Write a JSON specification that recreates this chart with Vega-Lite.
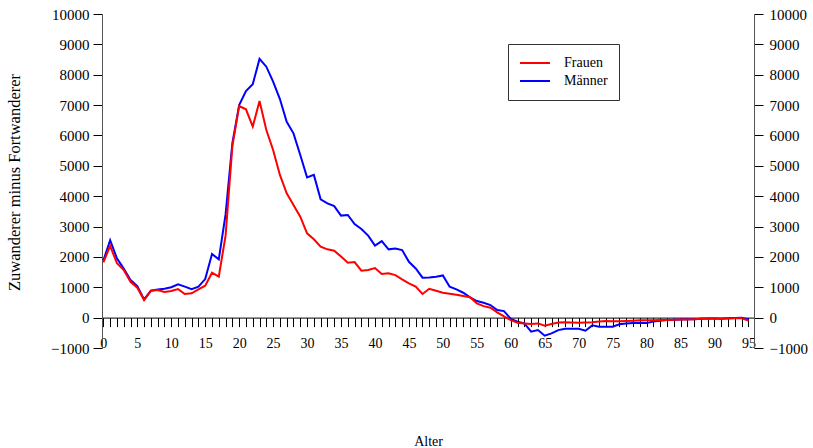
{
  "$schema": "https://vega.github.io/schema/vega-lite/v6.json",
  "width": 652,
  "height": 334,
  "autosize": {"type": "none"},
  "padding": {"left": 102, "top": 14, "right": 59, "bottom": 100},
  "background": "white",
  "config": {
    "view": {"stroke": null},
    "font": "Liberation Serif",
    "axis": {
      "grid": false,
      "labelFont": "Liberation Serif",
      "titleFont": "Liberation Serif",
      "labelColor": "#000",
      "titleColor": "#000",
      "titleFontWeight": "normal",
      "domainColor": "#000",
      "tickColor": "#000",
      "domainWidth": 1,
      "tickWidth": 1
    }
  },
  "data": {
    "values": [
      {"alter": 0, "Frauen": 1820, "Maenner": 1880},
      {"alter": 1, "Frauen": 2360, "Maenner": 2550},
      {"alter": 2, "Frauen": 1790, "Maenner": 1950},
      {"alter": 3, "Frauen": 1570, "Maenner": 1620},
      {"alter": 4, "Frauen": 1180, "Maenner": 1240},
      {"alter": 5, "Frauen": 985, "Maenner": 1040},
      {"alter": 6, "Frauen": 580, "Maenner": 600},
      {"alter": 7, "Frauen": 885, "Maenner": 885},
      {"alter": 8, "Frauen": 910, "Maenner": 930},
      {"alter": 9, "Frauen": 845, "Maenner": 950},
      {"alter": 10, "Frauen": 875, "Maenner": 1000},
      {"alter": 11, "Frauen": 940, "Maenner": 1095},
      {"alter": 12, "Frauen": 780, "Maenner": 1020},
      {"alter": 13, "Frauen": 800, "Maenner": 940},
      {"alter": 14, "Frauen": 930, "Maenner": 1020},
      {"alter": 15, "Frauen": 1050, "Maenner": 1270},
      {"alter": 16, "Frauen": 1480, "Maenner": 2095},
      {"alter": 17, "Frauen": 1350, "Maenner": 1920},
      {"alter": 18, "Frauen": 2700, "Maenner": 3400},
      {"alter": 19, "Frauen": 5650, "Maenner": 5750},
      {"alter": 20, "Frauen": 6970, "Maenner": 7000},
      {"alter": 21, "Frauen": 6860, "Maenner": 7460},
      {"alter": 22, "Frauen": 6290, "Maenner": 7690},
      {"alter": 23, "Frauen": 7135, "Maenner": 8520},
      {"alter": 24, "Frauen": 6180, "Maenner": 8265},
      {"alter": 25, "Frauen": 5520, "Maenner": 7770},
      {"alter": 26, "Frauen": 4700, "Maenner": 7200},
      {"alter": 27, "Frauen": 4095, "Maenner": 6450},
      {"alter": 28, "Frauen": 3710, "Maenner": 6070},
      {"alter": 29, "Frauen": 3325, "Maenner": 5355},
      {"alter": 30, "Frauen": 2775, "Maenner": 4620},
      {"alter": 31, "Frauen": 2580, "Maenner": 4700},
      {"alter": 32, "Frauen": 2335, "Maenner": 3895},
      {"alter": 33, "Frauen": 2250, "Maenner": 3765},
      {"alter": 34, "Frauen": 2205, "Maenner": 3675},
      {"alter": 35, "Frauen": 2010, "Maenner": 3360},
      {"alter": 36, "Frauen": 1810, "Maenner": 3380},
      {"alter": 37, "Frauen": 1830, "Maenner": 3080},
      {"alter": 38, "Frauen": 1545, "Maenner": 2920},
      {"alter": 39, "Frauen": 1570, "Maenner": 2700},
      {"alter": 40, "Frauen": 1635, "Maenner": 2370},
      {"alter": 41, "Frauen": 1435, "Maenner": 2520},
      {"alter": 42, "Frauen": 1460, "Maenner": 2250},
      {"alter": 43, "Frauen": 1400, "Maenner": 2280},
      {"alter": 44, "Frauen": 1260, "Maenner": 2225},
      {"alter": 45, "Frauen": 1130, "Maenner": 1840},
      {"alter": 46, "Frauen": 1020, "Maenner": 1620},
      {"alter": 47, "Frauen": 780, "Maenner": 1315},
      {"alter": 48, "Frauen": 950, "Maenner": 1325},
      {"alter": 49, "Frauen": 885, "Maenner": 1350},
      {"alter": 50, "Frauen": 820, "Maenner": 1390},
      {"alter": 51, "Frauen": 790, "Maenner": 1020},
      {"alter": 52, "Frauen": 755, "Maenner": 930},
      {"alter": 53, "Frauen": 710, "Maenner": 820},
      {"alter": 54, "Frauen": 670, "Maenner": 665},
      {"alter": 55, "Frauen": 470, "Maenner": 545},
      {"alter": 56, "Frauen": 380, "Maenner": 490},
      {"alter": 57, "Frauen": 325, "Maenner": 415},
      {"alter": 58, "Frauen": 175, "Maenner": 250},
      {"alter": 59, "Frauen": 40, "Maenner": 215},
      {"alter": 60, "Frauen": -80, "Maenner": -40},
      {"alter": 61, "Frauen": -170, "Maenner": -135},
      {"alter": 62, "Frauen": -190, "Maenner": -190},
      {"alter": 63, "Frauen": -210, "Maenner": -460},
      {"alter": 64, "Frauen": -190, "Maenner": -410},
      {"alter": 65, "Frauen": -265, "Maenner": -595},
      {"alter": 66, "Frauen": -210, "Maenner": -520},
      {"alter": 67, "Frauen": -160, "Maenner": -410},
      {"alter": 68, "Frauen": -150, "Maenner": -365},
      {"alter": 69, "Frauen": -160, "Maenner": -365},
      {"alter": 70, "Frauen": -170, "Maenner": -365},
      {"alter": 71, "Frauen": -160, "Maenner": -430},
      {"alter": 72, "Frauen": -150, "Maenner": -255},
      {"alter": 73, "Frauen": -130, "Maenner": -300},
      {"alter": 74, "Frauen": -110, "Maenner": -300},
      {"alter": 75, "Frauen": -120, "Maenner": -300},
      {"alter": 76, "Frauen": -120, "Maenner": -220},
      {"alter": 77, "Frauen": -110, "Maenner": -190},
      {"alter": 78, "Frauen": -100, "Maenner": -180},
      {"alter": 79, "Frauen": -90, "Maenner": -170},
      {"alter": 80, "Frauen": -90, "Maenner": -180},
      {"alter": 81, "Frauen": -85, "Maenner": -125},
      {"alter": 82, "Frauen": -80, "Maenner": -100},
      {"alter": 83, "Frauen": -75, "Maenner": -80},
      {"alter": 84, "Frauen": -70, "Maenner": -70},
      {"alter": 85, "Frauen": -60, "Maenner": -60},
      {"alter": 86, "Frauen": -60, "Maenner": -50},
      {"alter": 87, "Frauen": -50, "Maenner": -50},
      {"alter": 88, "Frauen": -40, "Maenner": -40},
      {"alter": 89, "Frauen": -40, "Maenner": -30},
      {"alter": 90, "Frauen": -30, "Maenner": -30},
      {"alter": 91, "Frauen": -40, "Maenner": -40},
      {"alter": 92, "Frauen": -30, "Maenner": -20},
      {"alter": 93, "Frauen": -20, "Maenner": -10},
      {"alter": 94, "Frauen": -20, "Maenner": 0},
      {"alter": 95, "Frauen": -100, "Maenner": -60}
    ]
  },
  "encoding": {
    "x": {
      "field": "alter",
      "type": "quantitative",
      "scale": {"domain": [-0.2, 95.82], "nice": false, "zero": false},
      "axis": {
        "title": "Alter",
        "offset": -30.4,
        "values": [0,1,2,3,4,5,6,7,8,9,10,11,12,13,14,15,16,17,18,19,20,21,22,23,24,25,26,27,28,29,30,31,32,33,34,35,36,37,38,39,40,41,42,43,44,45,46,47,48,49,50,51,52,53,54,55,56,57,58,59,60,61,62,63,64,65,66,67,68,69,70,71,72,73,74,75,76,77,78,79,80,81,82,83,84,85,86,87,88,89,90,91,92,93,94,95],
        "labelExpr": "datum.value % 5 === 0 ? datum.label : ''",
        "format": "d",
        "tickSize": 9,
        "labelPadding": 10,
        "labelFontSize": 14,
        "labelFlush": false,
        "labelOverlap": false,
        "titleFontSize": 14,
        "titleY": 124,
        "titleBaseline": "middle"
      }
    }
  },
  "layer": [
    {
      "mark": {"type": "line", "strokeWidth": 2},
      "encoding": {
        "y": {
          "field": "Maenner",
          "type": "quantitative",
          "scale": {"domain": [-1000, 10000], "nice": false, "zero": false},
          "axis": {
            "orient": "left",
            "title": "Zuwanderer minus Fortwanderer",
            "values": [-1000,0,1000,2000,3000,4000,5000,6000,7000,8000,9000,10000],
            "format": "d",
            "tickSize": 9,
            "labelPadding": 4,
            "labelFontSize": 15,
            "titleFontSize": 16.5,
            "titleX": -88,
            "titleY": 168,
            "titleAngle": -90,
            "titleAlign": "center",
            "titleBaseline": "middle",
            "domainColor": "#555"
          }
        },
        "color": {
          "datum": "Männer",
          "type": "nominal",
          "scale": {"domain": ["Frauen", "Männer"], "range": ["#ff0000", "#0000ff"]},
          "legend": {
            "title": null,
            "orient": "none",
            "legendX": 406,
            "legendY": 30,
            "strokeColor": "#333",
            "fillColor": "white",
            "padding": 11,
            "symbolType": "stroke",
            "symbolSize": 900,
            "symbolStrokeWidth": 2,
            "labelFont": "Liberation Serif",
            "labelFontSize": 14,
            "labelColor": "#000",
            "labelOffset": 13,
            "clipHeight": 16,
            "rowPadding": 2
          }
        }
      }
    },
    {
      "mark": {"type": "line", "strokeWidth": 2},
      "encoding": {
        "y": {"field": "Frauen", "type": "quantitative", "axis": null},
        "color": {"datum": "Frauen", "type": "nominal"}
      }
    },
    {
      "mark": {"type": "line", "opacity": 0},
      "encoding": {
        "y": {
          "field": "Frauen",
          "type": "quantitative",
          "axis": {
            "orient": "right",
            "title": null,
            "values": [-1000,0,1000,2000,3000,4000,5000,6000,7000,8000,9000,10000],
            "format": "d",
            "tickSize": 9,
            "labelPadding": 6,
            "labelFontSize": 15,
            "domainColor": "#555"
          }
        }
      }
    }
  ],
  "resolve": {"axis": {"y": "independent"}}
}
